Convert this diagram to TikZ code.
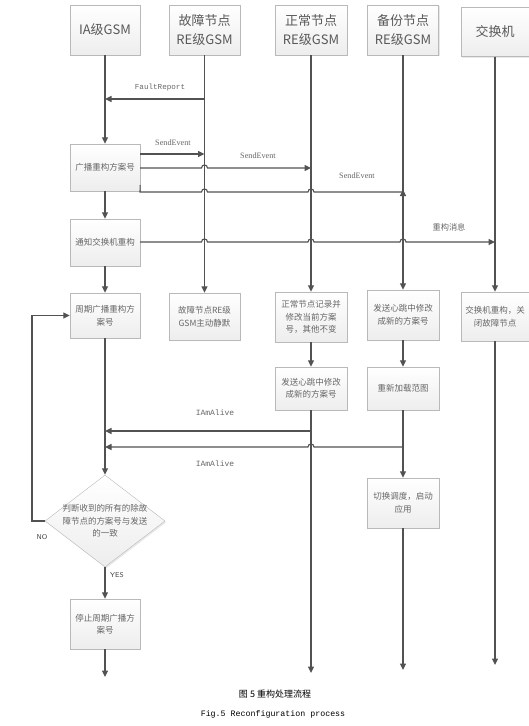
\documentclass[tikz,border=0pt]{standalone}
\usepackage{fontspec}
\setmainfont{Liberation Serif}
\newfontfamily\cjk{Noto Sans CJK SC}
\newfontfamily\mono{Liberation Mono}
\usetikzlibrary{arrows.meta,shapes.geometric,shadows}
\begin{document}
\begin{tikzpicture}[x=1pt,y=-1pt,
  boxtext/.style={inner sep=2pt, align=center, text=black!60,
    font=\cjk\fontsize{8.5}{12.5}\selectfont},
  box/.style={boxtext, draw=gray!55, top color=white, bottom color=gray!14,
    drop shadow={opacity=0.18,shadow xshift=1.3pt,shadow yshift=-1.3pt}},
  hdr/.style={box, font=\cjk\fontsize{13}{19}\selectfont, text=black!65},
  ln/.style={draw=black!68, line width=1.1pt},
  arr/.style={ln, -{Triangle[length=6.5pt,width=6pt]}},
  lbl/.style={text=black!60, inner sep=1pt},
  monolbl/.style={lbl, font=\mono\fontsize{7.6}{9}\selectfont},
  serlbl/.style={lbl, font=\fontsize{8.2}{10}\selectfont},
  cjklbl/.style={lbl, font=\cjk\fontsize{8.2}{10}\selectfont},
  yn/.style={lbl, font=\sffamily\fontsize{7}{8}\selectfont, text=black!75}]
\useasboundingbox (0,0) rectangle (529,726);
% headers
\node[hdr, minimum width=70pt, minimum height=50pt] (hIA) at (105,30) {IA级GSM};
\node[hdr, minimum width=71pt, minimum height=50pt] (hF) at (204.5,30) {故障节点\\RE级GSM};
\node[hdr, minimum width=72pt, minimum height=50pt] (hN) at (311,30) {正常节点\\RE级GSM};
\node[hdr, minimum width=71pt, minimum height=50pt] (hB) at (403,30) {备份节点\\RE级GSM};
\node[hdr, minimum width=68pt, minimum height=49pt] (hS) at (495,32) {交换机};
% process boxes
\node[box, minimum width=70pt, minimum height=47pt] (bcast) at (105,167.5) {广播重构方案号};
\node[box, minimum width=70pt, minimum height=47pt] (notify) at (105,242.5) {通知交换机重构};
\node[box, minimum width=70pt, minimum height=45pt] (period) at (105,315.5) {周期广播重构方\\案号};
\node[box, minimum width=71pt, minimum height=47pt] (fsil) at (204.5,316.5) {故障节点RE级\\GSM主动静默};
\node[box, minimum width=72pt, minimum height=50pt] (nrec) at (311,317) {正常节点记录并\\修改当前方案\\号，其他不变};
\node[box, minimum width=72pt, minimum height=50pt] (bsend) at (403,315) {发送心跳中修改\\成新的方案号};
\node[box, minimum width=68pt, minimum height=49pt] (srec) at (495,316.5) {交换机重构，关\\闭故障节点};
\node[box, minimum width=72pt, minimum height=43pt] (nsend) at (311,388.5) {发送心跳中修改\\成新的方案号};
\node[box, minimum width=72pt, minimum height=43pt] (bload) at (403,388.5) {重新加载范图};
\node[box, minimum width=72pt, minimum height=50pt] (bswitch) at (403,503) {切换调度，启动\\应用};
\node[box, shape=diamond, minimum width=120pt, minimum height=92pt, inner sep=0pt] (dec) at (105,521) {};
\node[boxtext, inner sep=0pt] (dect) at (105,521) {判断收到的所有的除故\\障节点的方案号与发送\\的一致};
\node[box, minimum width=70pt, minimum height=50pt] (stop) at (105,624) {停止周期广播方\\案号};
% lifeline ends
\coordinate (eIA) at (105,677);
\coordinate (eN) at (311,673);
\coordinate (eB) at (403,670);
\coordinate (eS) at (495,665);
\coordinate (loopL) at (32,521);
% IA lifeline
\draw[arr] (hIA) -- (bcast);
\draw[arr] (bcast) -- (notify);
\draw[arr] (notify) -- (period);
\draw[arr] (period) -- (dec.north);
\draw[arr] (dec.south) -- (stop);
\draw[arr] (stop) -- (eIA);
\draw[arr] (dec.west) -- (loopL) |- (period.west);
% fault
\draw[arr] (hF) -- (fsil);
\draw[arr] (hF.south |- 0,99) -- (hIA.south |- 0,99);
% normal
\draw[arr] (hN) -- (nrec);
\draw[arr] (nrec) -- (nsend);
\draw[arr] (nsend) -- (eN);
% backup
\draw[arr] (hB) -- (bsend);
\draw[arr] (bsend) -- (bload);
\draw[arr] (bload) -- (bswitch);
\draw[arr] (bswitch) -- (eB);
% switch
\draw[arr] (hS) -- (srec);
\draw[arr] (srec) -- (eS);
% messages
\draw[arr] (bcast.east |- 0,154) -- (hF.south |- 0,154);
\draw[arr] (bcast.east |- 0,168) -- (201.5,168) .. controls (201.5,164) and (207.5,164) .. (207.5,168) -- (hN.south |- 0,168);
\draw[ln] (bcast.east |- 0,185) -- (140,192) -- (201.5,192) .. controls (201.5,188) and (207.5,188) .. (207.5,192)
   -- (308,192) .. controls (308,188) and (314,188) .. (314,192) -- (403,192);
\draw[arr] (403,193) -- (403,189.5);
\draw[arr] (notify.east |- 0,242) -- (201.5,242) .. controls (201.5,238) and (207.5,238) .. (207.5,242)
   -- (308,242) .. controls (308,238) and (314,238) .. (314,242)
   -- (400,242) .. controls (400,238) and (406,238) .. (406,242) -- (hS.south |- 0,242);
\draw[arr] (nsend.south |- 0,431) -- (period.south |- 0,431);
\draw[arr] (bload.south |- 0,447) -- (314,447) .. controls (314,443) and (308,443) .. (308,447) -- (period.south |- 0,447);
% labels
\node[monolbl] (lFR) at (160,88) {FaultReport};
\node[serlbl] (lS1) at (173,143) {SendEvent};
\node[serlbl] (lS2) at (258,156) {SendEvent};
\node[serlbl] (lS3) at (357,176) {SendEvent};
\node[cjklbl] (lRM) at (449,227) {重构消息};
\node[monolbl, font=\mono\fontsize{8}{9}\selectfont] (lA1) at (215,413) {IAmAlive};
\node[monolbl, font=\mono\fontsize{8}{9}\selectfont] (lA2) at (215,464) {IAmAlive};
\node[yn] (lNO) at (42,537) {NO};
\node[yn] (lYES) at (117,575) {YES};
% caption
\node[inner sep=0pt, font=\cjk\fontsize{9}{10}\selectfont] (cap1) at (275,694) {图 5 重构处理流程};
\node[inner sep=0pt, font=\mono\fontsize{8.3}{10}\selectfont] (cap2) at (273,714) {Fig.5 Reconfiguration process};
\end{tikzpicture}
\end{document}
